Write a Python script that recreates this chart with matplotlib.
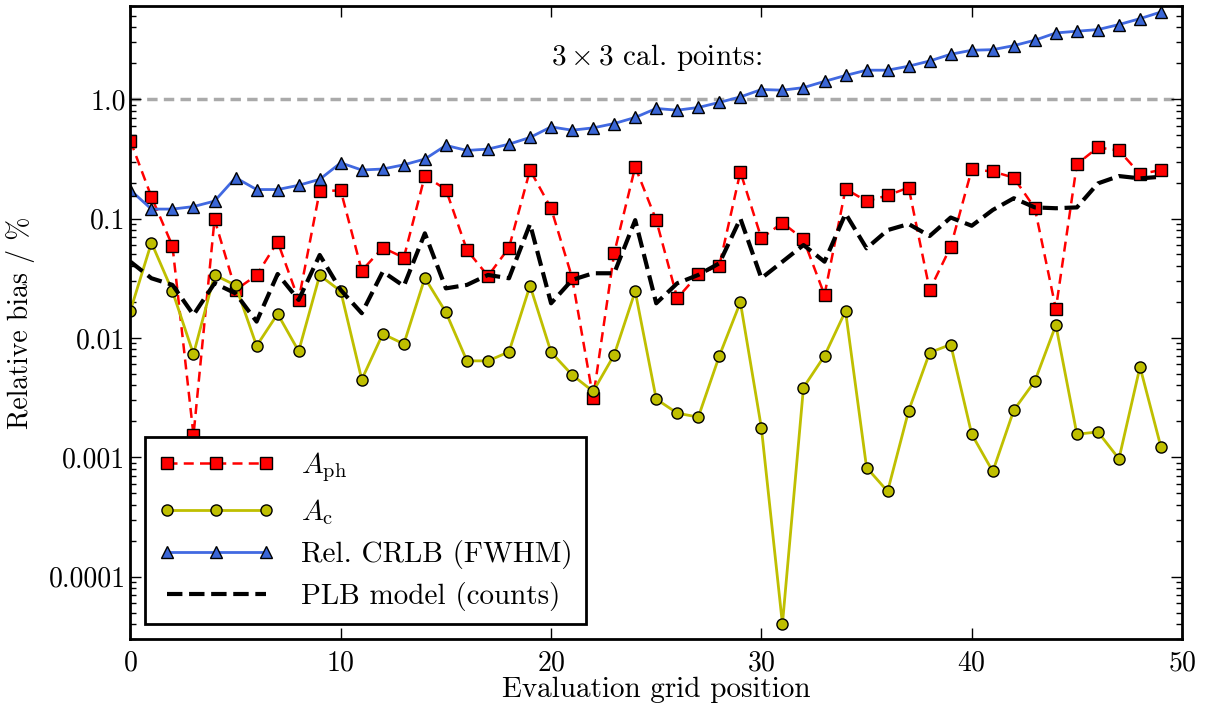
import numpy as np
import matplotlib
matplotlib.use("Agg")
import matplotlib.pyplot as plt

# grid positions and relative biases (in %)
pos = np.arange(50)

a_ph = [0.448, 0.152, 0.0589, 0.00153, 0.0985, 0.0252, 0.0335, 0.064, 0.0208, 0.17,
        0.172, 0.0366, 0.057, 0.047, 0.228, 0.175, 0.0545, 0.033, 0.057, 0.255,
        0.122, 0.032, 0.00313, 0.0511, 0.271, 0.097, 0.0215, 0.0341, 0.0403, 0.246,
        0.0683, 0.0922, 0.067, 0.0229, 0.177, 0.14, 0.156, 0.182, 0.0252, 0.058,
        0.258, 0.248, 0.22, 0.122, 0.0175, 0.286, 0.394, 0.372, 0.236, 0.255]

a_c = [0.0169, 0.0628, 0.0246, 0.0073, 0.0337, 0.0276, 0.00857, 0.0159, 0.00774, 0.0335,
       0.0246, 0.00448, 0.0108, 0.0089, 0.0318, 0.0164, 0.00642, 0.00642, 0.00764, 0.0274,
       0.00759, 0.0049, 0.00356, 0.0072, 0.0246, 0.00307, 0.00234, 0.00217, 0.00707, 0.0199,
       0.00176, 4.0e-5, 0.00384, 0.00707, 0.0168, 0.00082, 0.000518, 0.00245, 0.00753, 0.0088,
       0.00156, 0.00076, 0.00248, 0.00434, 0.0128, 0.00156, 0.00163, 0.00097, 0.00572, 0.00121]

crlb = [0.173, 0.12, 0.12, 0.126, 0.14, 0.22, 0.175, 0.175, 0.19, 0.213,
        0.293, 0.255, 0.26, 0.282, 0.315, 0.41, 0.372, 0.382, 0.42, 0.478,
        0.586, 0.55, 0.575, 0.625, 0.703, 0.836, 0.809, 0.852, 0.94, 1.045,
        1.205, 1.19, 1.25, 1.41, 1.58, 1.75, 1.75, 1.89, 2.09, 2.38,
        2.57, 2.6, 2.81, 3.12, 3.59, 3.71, 3.83, 4.22, 4.73, 5.38]

plb = [0.0435, 0.0316, 0.0278, 0.0156, 0.0287, 0.0236, 0.0137, 0.0343, 0.0208, 0.0495,
       0.0252, 0.0161, 0.0359, 0.0272, 0.0752, 0.026, 0.0278, 0.0337, 0.0316, 0.09,
       0.0195, 0.0306, 0.0348, 0.0348, 0.097, 0.0195, 0.0287, 0.0337, 0.0422, 0.1,
       0.0316, 0.0435, 0.06, 0.0435, 0.11, 0.0563, 0.08, 0.09, 0.0714, 0.102,
       0.087, 0.118, 0.148, 0.124, 0.122, 0.124, 0.197, 0.227, 0.217, 0.224]

ytick_vals = [1e-4, 1e-3, 1e-2, 1e-1, 1.0]
ytick_labels = ["0.0001", "0.001", "0.01", "0.1", "1.0"]

plt.rcParams["font.family"] = "serif"
plt.rcParams["font.serif"] = ["cmr10"]
plt.rcParams["mathtext.fontset"] = "cm"
plt.rcParams["axes.formatter.use_mathtext"] = True

fig = plt.figure(figsize=(12.13, 7.09), dpi=100)
ax = fig.add_axes([0.1075, 0.0987, 0.867, 0.893])

ax.axhline(1.0, color="#aaaaaa", lw=2.5, ls=(0, (3, 1.8)), zorder=1)
ax.plot(pos, a_ph, "s", ls=(0, (4, 2.5)), color="r", mfc="r", mec="k", ms=8.5, lw=1.8,
        label=r"$A_\mathrm{ph}$")
ax.plot(pos, a_c, "o-", color="#bfbf00", mfc="#bfbf00", mec="k", ms=8, lw=2, label=r"$A_\mathrm{c}$")
ax.plot(pos, crlb, "^-", color="#4169e1", mfc="#3a66d6", mec="k", ms=8.5, lw=2, label="Rel. CRLB (FWHM)")
ax.plot(pos, plb, "--", color="k", lw=3, label="PLB model (counts)")

ax.text(25, 2.25, r"$3\times3$ cal. points:", ha="center", va="center", fontsize=21)

ax.set_yscale("log")
ax.set_xlim(0, 50)
ax.set_ylim(3e-5, 6.05)
ax.set_yticks(ytick_vals)
ax.set_yticklabels(ytick_labels)
ax.set_xticks(np.arange(0, 51, 10))
ax.tick_params(which="both", direction="in", top=True, right=True, labelsize=20)
ax.tick_params(which="major", length=8, width=1)
ax.tick_params(which="minor", length=4, width=1)
ax.tick_params(axis="x", pad=8)
for s in ax.spines.values():
    s.set_linewidth(2)

ax.set_xlabel("Evaluation grid position", fontsize=21, labelpad=0)
ax.set_ylabel("Relative bias / %", fontsize=20, labelpad=10)

leg = ax.legend(loc="lower left", numpoints=3, fontsize=21, fancybox=False, framealpha=1,
                borderaxespad=0.5, handlelength=4.0, handletextpad=0.9,
                labelspacing=0.45, borderpad=0.45)
leg.get_frame().set_edgecolor("k")
leg.get_frame().set_linewidth(2)

fig.savefig("out.png", dpi=100)
